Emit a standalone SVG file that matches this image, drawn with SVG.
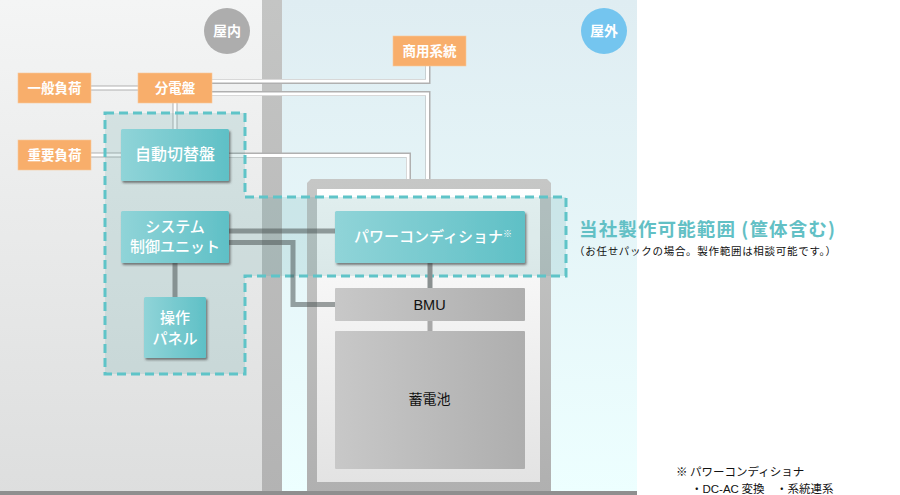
<svg xmlns="http://www.w3.org/2000/svg" width="900" height="495" viewBox="0 0 900 495">
<style>
text{font-family:"Noto Sans CJK JP","Liberation Sans",sans-serif;text-anchor:middle}
.o rect{fill:#f8ae6b;stroke:#f8c89c;stroke-width:.6}
.o text{fill:#fff;font-size:13.5px;font-weight:700}
.t text{fill:#fff;font-size:15px;font-weight:500}
.g{fill:none;stroke:#b0b0b0;stroke-width:5}
.w{fill:none;stroke:#fff;stroke-width:3}
.d{fill:none;stroke:#4d5555;stroke-opacity:.55;stroke-width:5}
.n{font-size:11.5px;fill:#111;text-anchor:start}
.a{font-family:"Liberation Sans",sans-serif}
</style>
<defs>
<linearGradient id="bgL" x1="0" y1="0" x2="0" y2="1"><stop offset="0" stop-color="#f4f5f5"/><stop offset="1" stop-color="#dddede"/></linearGradient>
<linearGradient id="bgW" x1="0" y1="0" x2="0" y2="1"><stop offset="0" stop-color="#c4c5c4"/><stop offset="1" stop-color="#b3b3b3"/></linearGradient>
<linearGradient id="bgR" x1="0" y1="0" x2="0" y2="1"><stop offset="0" stop-color="#dfedf2"/><stop offset="1" stop-color="#edffff"/></linearGradient>
<linearGradient id="cs" x1="0" y1="0" x2="0" y2="1"><stop offset="0" stop-color="#c6c7c6"/><stop offset="1" stop-color="#b0b0b0"/></linearGradient>
<linearGradient id="ci" x1="0" y1="0" x2="0" y2="1"><stop offset="0" stop-color="#fff"/><stop offset="1" stop-color="#e3e3e3"/></linearGradient>
<linearGradient id="tl" x1="0" y1="0" x2="1" y2="0"><stop offset="0" stop-color="#90d4d8"/><stop offset="1" stop-color="#5fc0c6"/></linearGradient>
<linearGradient id="gy" x1="0" y1="0" x2="1" y2="0"><stop offset="0" stop-color="#c8c8c8"/><stop offset="1" stop-color="#aeaeae"/></linearGradient>
<filter id="sh" x="-10%" y="-10%" width="125%" height="130%"><feDropShadow dx="1.5" dy="2" stdDeviation="1.2" flood-color="#333" flood-opacity=".6"/></filter>
</defs>

<g id="background">
<rect x="0" y="0" width="262" height="495" fill="url(#bgL)"/>
<rect x="262" y="0" width="20" height="495" fill="url(#bgW)"/>
<rect x="282" y="0" width="355" height="495" fill="url(#bgR)"/>
</g>

<g id="casing">
<path d="M311 179H547L551 183V492H307V183Z" fill="url(#cs)"/>
<rect x="317" y="189" width="223" height="293" fill="url(#ci)"/>
</g>
<rect id="floor" x="0" y="491" width="637" height="4" fill="#8f8f8f"/>

<g id="connectors">
<path class="g" d="M91 88H138M212 81.500H428V66M212 93.500H428V179M175 103V129M91 155H121M229 155H408.500V179"/>
<path class="w" d="M91 88H138M212 81H427.500V66M212 94H427.500V179M175 103V129M91 155H121M229 155.500H408V179"/>
</g>

<g id="range">
<path d="M105 113H245V197H566V276H245V374H105Z" fill="#4d9ea3" fill-opacity=".17" stroke="#5fc4c8" stroke-width="3" stroke-dasharray="9 5"/>
</g>

<g id="control-lines">
<path class="d" d="M229 231H335M229 242.500H293V304.500H335M175 263V297"/>
<path d="M430 263V288" fill="none" stroke="#8a9090" stroke-width="5"/>
<path d="M430 320V331" fill="none" stroke="#a8a8a8" stroke-width="5"/>
</g>

<g id="indoor"><circle cx="227" cy="31" r="23" fill="#adadad"/><text x="227" y="36" fill="#fff" font-size="14" font-weight="700">屋内</text></g>
<g id="outdoor"><circle cx="604" cy="31" r="23" fill="#74c5ef"/><text x="604" y="36" fill="#fff" font-size="14" font-weight="700">屋外</text></g>

<g id="general-load" class="o"><rect x="18" y="73" width="73" height="30"/><text x="54.500" y="93">一般負荷</text></g>
<g id="panel" class="o"><rect x="138" y="73" width="74" height="30"/><text x="175" y="93">分電盤</text></g>
<g id="critical-load" class="o"><rect x="18" y="140" width="73" height="30"/><text x="54.500" y="160">重要負荷</text></g>
<g id="grid" class="o"><rect x="393" y="36" width="73" height="30"/><text x="429.500" y="56">商用系統</text></g>

<g id="ats" class="t"><rect x="121" y="129" width="108" height="52" rx="1.500" fill="url(#tl)" filter="url(#sh)"/><text x="175" y="160" style="font-size:16px">自動切替盤</text></g>
<g id="controller" class="t"><rect x="121" y="211" width="108" height="52" rx="1.500" fill="url(#tl)" filter="url(#sh)"/><text x="175" y="232">システム</text><text x="175" y="252">制御ユニット</text></g>
<g id="operation" class="t"><rect x="144" y="297" width="62" height="61" rx="1.500" fill="url(#tl)" filter="url(#sh)"/><text x="175" y="323">操作</text><text x="175" y="344">パネル</text></g>
<g id="pcs" class="t"><rect x="335" y="211" width="190" height="52" rx="1.500" fill="url(#tl)" filter="url(#sh)"/><text x="433" y="242">パワーコンディショナ<tspan font-size="9" font-weight="700" dy="-5">※</tspan></text></g>
<g id="bmu"><rect x="335" y="288" width="190" height="33" rx="1" fill="url(#gy)"/><text class="a" x="429.500" y="310" font-size="14.500" fill="#111">BMU</text></g>
<g id="battery"><rect x="335" y="331" width="190" height="138" rx="1" fill="url(#gy)"/><text x="429.500" y="404" font-size="14" fill="#111">蓄電池</text></g>

<g id="notes">
<text x="579" y="236" font-size="18.500" font-weight="700" fill="#62c0c5" style="text-anchor:start" textLength="256">当社製作可能範囲 (筐体含む)</text>
<text x="574" y="255" font-size="10.500" fill="#111" style="text-anchor:start" textLength="262">（お任せパックの場合。製作範囲は相談可能です。）</text>
<text class="n" x="676" y="476">※ パワーコンディショナ</text>
<text class="n" x="691" y="493">・<tspan class="a">DC-AC</tspan> 変換　・系統連系</text>
</g>
</svg>
